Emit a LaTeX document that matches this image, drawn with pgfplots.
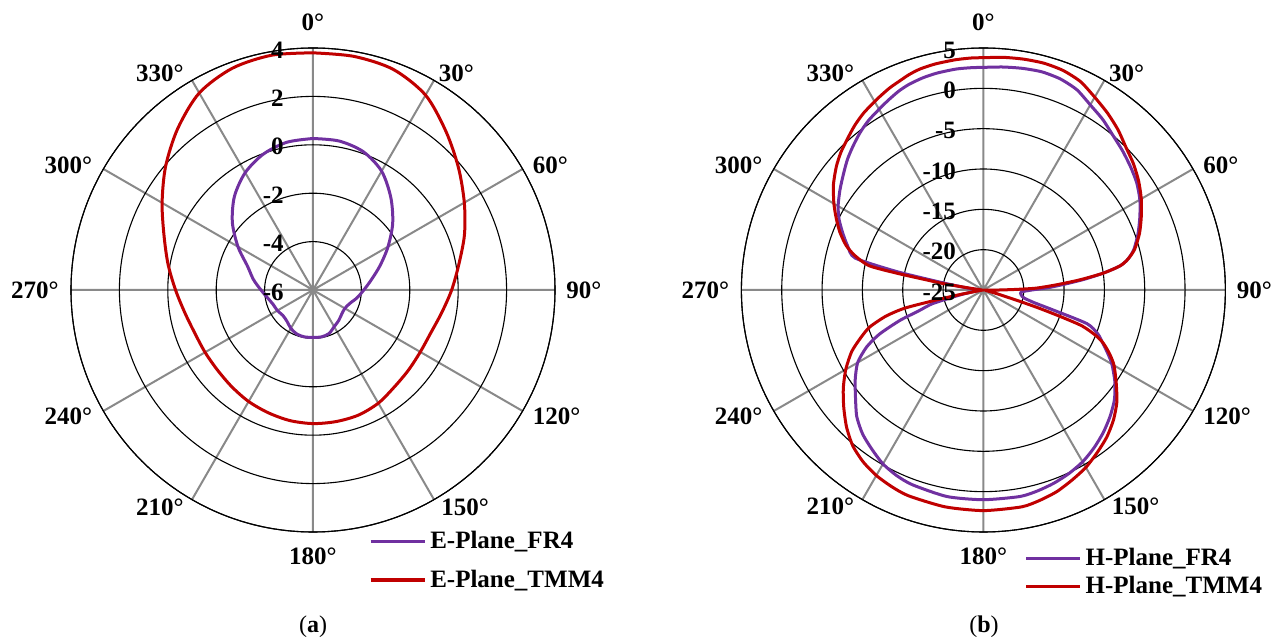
\documentclass[border=0pt]{standalone}
\usepackage{fontspec}
\setmainfont{Liberation Serif}
\usepackage{pgfplots}
\pgfplotsset{compat=1.18}
\usepgfplotslibrary{polar}
\usepackage{pgfplotstable}
\definecolor{cpurple}{RGB}{112,48,160}
\definecolor{cred}{RGB}{192,0,0}
\definecolor{cgrid}{RGB}{137,137,137}

% E-plane FR4 (angle deg, gain dB)
\pgfplotstableread{
t v
0 0.26
10 0.25
20 0.08
30 -0.33
40 -1.0
50 -1.7
60 -2.42
70 -3.05
80 -3.55
90 -3.9
100 -4.15
110 -4.38
120 -4.48
130 -4.45
140 -4.35
150 -4.25
160 -4.08
170 -4.03
180 -4.04
190 -4.03
200 -4.06
210 -4.17
220 -4.32
230 -4.37
240 -4.3
250 -4.25
260 -4.1
270 -3.85
280 -3.5
290 -3.12
300 -2.42
310 -1.65
320 -0.95
330 -0.4
340 -0.02
350 0.2
360 0.26
}\efr

% E-plane TMM4
\pgfplotstableread{
t v
0 3.8
10 3.8
20 3.7
30 3.3
40 2.55
50 1.85
60 1.22
70 0.66
80 0.12
90 -0.27
100 -0.6
110 -0.82
120 -0.88
130 -0.85
140 -0.77
150 -0.6
160 -0.5
170 -0.48
180 -0.48
190 -0.52
200 -0.6
210 -0.68
220 -0.78
230 -0.85
240 -0.85
250 -0.8
260 -0.62
270 -0.32
280 0.08
290 0.55
300 1.2
310 1.95
320 2.7
330 3.4
340 3.75
350 3.85
360 3.8
}\etmm

% H-plane FR4
\pgfplotstableread{
t v
0 2.6
5 2.75
10 2.9
15 3.0
20 2.85
25 2.4
30 1.5
35 0.8
40 0.0
45 -0.6
50 -1.2
55 -1.8
60 -2.6
65 -3.6
70 -4.6
75 -5.7
78 -6.7
80 -7.8
82 -10
84 -12.5
86 -15
88 -17
90 -19
93 -20.3
97 -20.3
101 -19.9
104 -18.5
106 -16
108 -11.5
111 -9.8
114 -8.8
117 -7.7
120 -6.6
125 -5.1
130 -3.8
135 -2.8
140 -1.9
145 -1.1
150 -0.4
155 0.1
160 0.5
165 0.8
170 1.0
180 1.0
190 1.0
200 0.7
205 0.4
210 -0.1
215 -0.9
220 -1.7
225 -2.8
230 -4.3
235 -5.6
240 -7.0
244 -8.9
247 -11
250 -14
252 -16.5
255 -18.5
258 -22
262 -24
270 -24.5
277 -23
280 -20
282 -14
284 -8.6
288 -7.3
292 -6.2
296 -5.1
300 -4.2
305 -3.3
310 -2.4
314 -1.6
318 -0.9
322 -0.2
326 0.4
331 1.0
334 1.4
337 1.8
340 2.1
344 2.35
348 2.5
353 2.6
357 2.6
360 2.6
}\hfr

% H-plane TMM4
\pgfplotstableread{
t v
0 3.8
5 3.95
10 4.05
15 4.1
20 3.95
25 3.5
30 2.6
35 1.8
40 0.95
45 0.0
50 -0.7
55 -1.5
60 -2.4
65 -3.4
70 -4.4
75 -5.6
78 -6.7
80 -7.8
82 -10
84 -13
86 -16
88 -18.5
89 -21
90 -23
93 -24.5
100 -24.7
105 -23.5
107 -21
108 -18
109 -15
110 -12
112 -10
114 -8.7
117 -7.4
120 -6.3
125 -4.9
130 -3.4
135 -2.2
140 -1.2
145 -0.4
150 0.4
155 1.0
160 1.6
165 2.0
170 2.3
180 2.35
190 2.3
200 2.15
205 1.9
210 1.55
215 1.0
220 0.2
225 -1.0
230 -2.4
235 -3.8
240 -5.3
245 -7.0
249 -8.8
252 -10.2
255 -12.5
257 -15
258 -19
259 -22
262 -24.6
270 -24.8
278 -23
279 -20
280 -18
281 -14
282 -10.5
285 -8.5
288 -7.1
292 -5.8
296 -4.7
300 -3.6
305 -2.3
310 -1.2
314 -0.44
318 0.2
322 0.9
326 1.5
331 2.1
335 2.6
338 2.9
341 3.25
344 3.5
348 3.65
353 3.75
357 3.8
360 3.8
}\htmm

\pgfplotsset{
  mypolar/.style={
    scale only axis, width=242pt, height=242pt,
    anchor=center,
    xmin=0, xmax=360,
    xtick={0,30,...,330},
    xticklabels={},
    yticklabels={},
    major tick length=0pt,
    grid=major,
    x grid style={cgrid, line width=1pt},
    y grid style={black, line width=0.55pt},
    axis line style={black, line width=0.55pt},
    y axis line style={draw=none},
    clip=false,
    legend style={draw=none, fill=none, inner sep=0pt,
      font=\fontsize{12.5}{14}\selectfont\bfseries,
      legend cell align=left},
    legend image code/.code={\draw[#1, line width=1.6pt] (0pt,0pt) -- (27pt,0pt);},
  },
}
\tikzset{
  rlab/.style={anchor=east, inner sep=0pt, font=\fontsize{12.5}{14}\selectfont\bfseries},
  alab/.style={inner sep=0pt, font=\fontsize{12.5}{14}\selectfont\bfseries},
}
\newcommand{\anglabels}[1]{%
  \node[alab, anchor=south, yshift=8.5pt] at (axis cs:90,#1) {0°};
  \node[alab, anchor=south west, xshift=2.2pt, yshift=-0.8pt] at (axis cs:60,#1) {30°};
  \node[alab, anchor=west, xshift=5pt, yshift=2pt] at (axis cs:30,#1) {60°};
  \node[alab, anchor=west, xshift=5.5pt] at (axis cs:0,#1) {90°};
  \node[alab, anchor=west, xshift=5pt, yshift=-2.5pt] at (axis cs:-30,#1) {120°};
  \node[alab, anchor=north west, xshift=3.5pt, yshift=0.8pt] at (axis cs:-60,#1) {150°};
  \node[alab, anchor=north, yshift=-7.5pt] at (axis cs:-90,#1) {180°};
  \node[alab, anchor=north east, xshift=-4pt, yshift=0.8pt] at (axis cs:-120,#1) {210°};
  \node[alab, anchor=east, xshift=-5.5pt, yshift=-2.5pt] at (axis cs:-150,#1) {240°};
  \node[alab, anchor=east, xshift=-6pt] at (axis cs:180,#1) {270°};
  \node[alab, anchor=east, xshift=-5.5pt, yshift=2pt] at (axis cs:150,#1) {300°};
  \node[alab, anchor=south east, xshift=-4pt, yshift=-1pt] at (axis cs:120,#1) {330°};
}

\begin{document}
\begin{tikzpicture}
\useasboundingbox (0,0) rectangle (641pt,321pt);

\begin{polaraxis}[mypolar, at={(156.5pt,176pt)},
  ymin=0, ymax=10, ytick={0,2,4,6,8,10},
  legend style={at={(0.615,0.01)}, anchor=north west, row sep=5pt}]
  \addplot[cpurple, line width=1.5pt, no marks, smooth] table[x expr=90-\thisrow{t}, y expr=\thisrow{v}+6] {\efr};
  \addlegendentry{E-Plane\_FR4}
  \addplot[cred, line width=1.5pt, no marks, smooth] table[x expr=90-\thisrow{t}, y expr=\thisrow{v}+6] {\etmm};
  \addlegendentry{E-Plane\_TMM4}
  \node[rlab, xshift=-14.5pt, yshift=-1pt] at (axis cs:90,10) {4};
  \node[rlab, xshift=-14.5pt, yshift=-1pt] at (axis cs:90,8) {2};
  \node[rlab, xshift=-14.5pt, yshift=-1pt] at (axis cs:90,6) {0};
  \node[rlab, xshift=-14.5pt, yshift=-1pt] at (axis cs:90,4) {-2};
  \node[rlab, xshift=-14.5pt, yshift=-1pt] at (axis cs:90,2) {-4};
  \node[rlab, xshift=-14.5pt, yshift=-1pt] at (axis cs:90,0) {-6};
  \anglabels{10}
\end{polaraxis}

\begin{polaraxis}[mypolar, at={(491.7pt,176pt)},
  ymin=0, ymax=30, ytick={0,5,10,15,20,25,30},
  legend style={at={(0.584,-0.024)}, anchor=north west, row sep=0pt}]
  \addplot[cpurple, line width=1.5pt, no marks, smooth, tension=0.4] table[x expr=90-\thisrow{t}, y expr=\thisrow{v}+25] {\hfr};
  \addlegendentry{H-Plane\_FR4}
  \addplot[cred, line width=1.5pt, no marks, smooth, tension=0.4] table[x expr=90-\thisrow{t}, y expr=\thisrow{v}+25] {\htmm};
  \addlegendentry{H-Plane\_TMM4}
  \node[rlab, xshift=-13.5pt, yshift=-1pt] at (axis cs:90,30) {5};
  \node[rlab, xshift=-13.5pt, yshift=-1pt] at (axis cs:90,25) {0};
  \node[rlab, xshift=-13.5pt, yshift=-1pt] at (axis cs:90,20) {-5};
  \node[rlab, xshift=-13.5pt, yshift=-1pt] at (axis cs:90,15) {-10};
  \node[rlab, xshift=-13.5pt, yshift=-1pt] at (axis cs:90,10) {-15};
  \node[rlab, xshift=-13.5pt, yshift=-1pt] at (axis cs:90,5) {-20};
  \node[rlab, xshift=-13.5pt, yshift=-1pt] at (axis cs:90,0) {-25};
  \anglabels{30}
\end{polaraxis}

\node[font=\fontsize{12}{14}\selectfont] at (156.5pt,7.5pt) {(\textbf{a})};
\node[font=\fontsize{12}{14}\selectfont] at (492pt,7.5pt) {(\textbf{b})};
\end{tikzpicture}
\end{document}
